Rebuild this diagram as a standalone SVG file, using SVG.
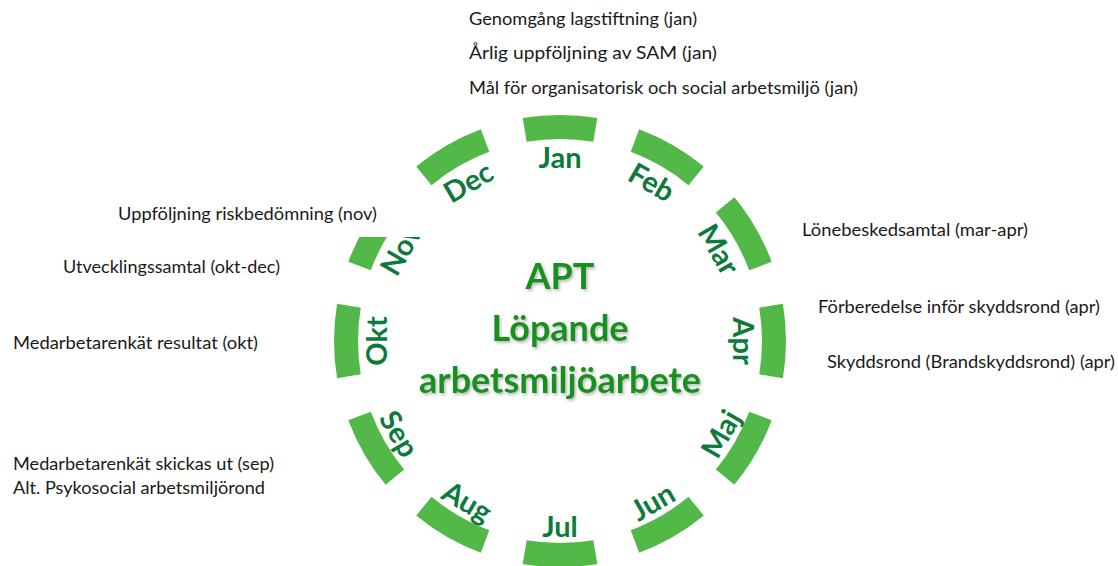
<svg xmlns="http://www.w3.org/2000/svg" width="1118" height="566" viewBox="0 0 1118 566">
<style>
.seg{fill:#52b848}
.mon{font-family:Lato,"Open Sans",sans-serif;font-weight:bold;font-size:29px;fill:#0b7a3a;text-anchor:middle}
.ctr{font-family:Lato,"Open Sans",sans-serif;font-weight:bold;font-size:36px;fill:#15921f;text-anchor:middle}
.note{font-family:Lato,"Open Sans",sans-serif;font-size:17px;fill:#1a1a1a}
</style>
<defs>
<path id="segshape" d="M -37.30 -222.90 A 226 226 0 0 1 37.30 -222.90 L 33.34 -199.23 A 202 202 0 0 0 -33.34 -199.23 Z"/>
<filter id="glow" x="-10%" y="-20%" width="120%" height="150%">
<feDropShadow dx="1.5" dy="2" stdDeviation="1.5" flood-color="#9a9a9a" flood-opacity="0.7"/>
</filter>
</defs>
<rect width="1118" height="566" fill="#ffffff"/>
<g id="ring">
<g id="jan"><use href="#segshape" class="seg" transform="translate(560,341) rotate(0)"/><text class="mon" transform="translate(560,341) rotate(0) translate(0,-173)">Jan</text></g>
<g id="feb"><use href="#segshape" class="seg" transform="translate(560,341) rotate(30)"/><text class="mon" transform="translate(560,341) rotate(30) translate(0,-173)">Feb</text></g>
<g id="mar"><use href="#segshape" class="seg" transform="translate(560,341) rotate(60)"/><text class="mon" transform="translate(560,341) rotate(60) translate(0,-173)">Mar</text></g>
<g id="apr"><use href="#segshape" class="seg" transform="translate(560,341) rotate(90)"/><text class="mon" transform="translate(560,341) rotate(90) translate(0,-173)">Apr</text></g>
<g id="maj"><use href="#segshape" class="seg" transform="translate(560,341) rotate(120)"/><text class="mon" transform="translate(560,341) rotate(-60) translate(0,196)">Maj</text></g>
<g id="jun"><use href="#segshape" class="seg" transform="translate(560,341) rotate(150)"/><text class="mon" transform="translate(560,341) rotate(-30) translate(0,196)">Jun</text></g>
<g id="jul"><use href="#segshape" class="seg" transform="translate(560,341) rotate(180)"/><text class="mon" transform="translate(560,341) rotate(0) translate(0,196)">Jul</text></g>
<g id="aug"><use href="#segshape" class="seg" transform="translate(560,341) rotate(210)"/><text class="mon" transform="translate(560,341) rotate(30) translate(0,196)">Aug</text></g>
<g id="sep"><use href="#segshape" class="seg" transform="translate(560,341) rotate(240)"/><text class="mon" transform="translate(560,341) rotate(60) translate(0,196)">Sep</text></g>
<g id="okt"><use href="#segshape" class="seg" transform="translate(560,341) rotate(270)"/><text class="mon" transform="translate(560,341) rotate(270) translate(0,-173)">Okt</text></g>
<g id="nov"><use href="#segshape" class="seg" transform="translate(560,341) rotate(300)"/><text class="mon" transform="translate(560,341) rotate(300) translate(0,-173)">Nov</text></g>
<g id="dec"><use href="#segshape" class="seg" transform="translate(560,341) rotate(330)"/><text class="mon" transform="translate(560,341) rotate(330) translate(0,-173)">Dec</text></g>
</g>
<rect x="100" y="190" width="332" height="47" fill="#ffffff"/>
<g id="center" filter="url(#glow)">
<text class="ctr" x="560" y="289">APT</text>
<text class="ctr" x="560" y="341">Löpande</text>
<text class="ctr" x="560" y="393">arbetsmiljöarbete</text>
</g>
<g id="notes">
<text class="note" x="469" y="25" textLength="228" lengthAdjust="spacingAndGlyphs">Genomgång lagstiftning (jan)</text>
<text class="note" x="469" y="59" textLength="248" lengthAdjust="spacingAndGlyphs">Årlig uppföljning av SAM (jan)</text>
<text class="note" x="469" y="94" textLength="389" lengthAdjust="spacingAndGlyphs">Mål för organisatorisk och social arbetsmiljö (jan)</text>
<text class="note" x="118" y="220" textLength="259" lengthAdjust="spacingAndGlyphs">Uppföljning riskbedömning (nov)</text>
<text class="note" x="63" y="273" textLength="217" lengthAdjust="spacingAndGlyphs">Utvecklingssamtal (okt-dec)</text>
<text class="note" x="13" y="349" textLength="245" lengthAdjust="spacingAndGlyphs">Medarbetarenkät resultat (okt)</text>
<text class="note" x="13" y="470" textLength="261" lengthAdjust="spacingAndGlyphs">Medarbetarenkät skickas ut (sep)</text>
<text class="note" x="13" y="494" textLength="252" lengthAdjust="spacingAndGlyphs">Alt. Psykosocial arbetsmiljörond</text>
<text class="note" x="802" y="236" textLength="226" lengthAdjust="spacingAndGlyphs">Lönebeskedsamtal (mar-apr)</text>
<text class="note" x="818" y="313" textLength="282" lengthAdjust="spacingAndGlyphs">Förberedelse inför skyddsrond (apr)</text>
<text class="note" x="827" y="368" textLength="288" lengthAdjust="spacingAndGlyphs">Skyddsrond (Brandskyddsrond) (apr)</text>
</g>
</svg>
